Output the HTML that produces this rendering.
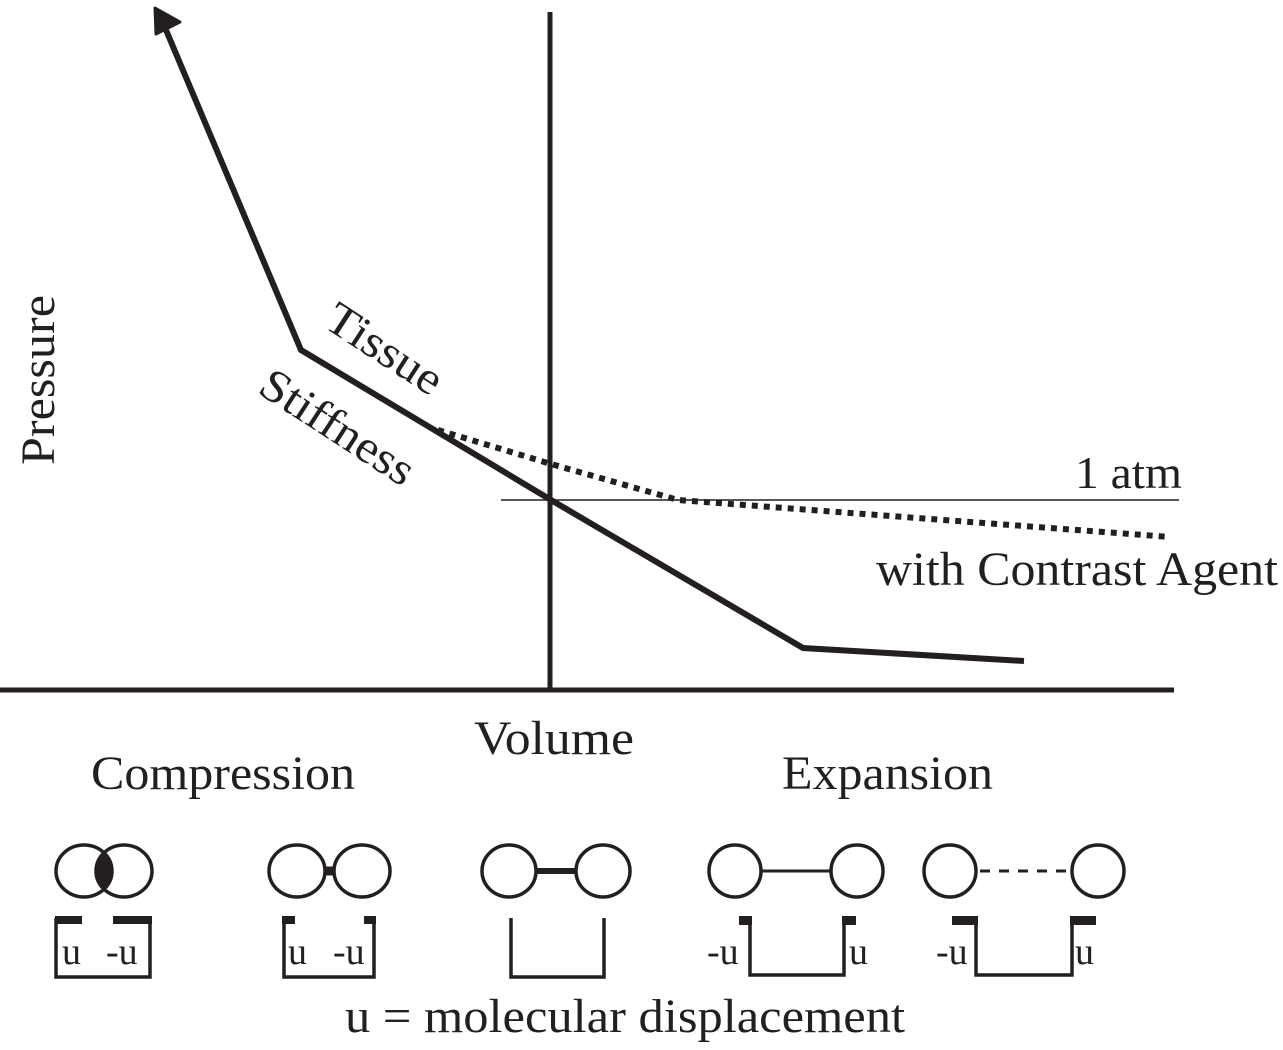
<!DOCTYPE html>
<html><head><meta charset="utf-8"><style>
html,body{margin:0;padding:0;background:#fff;}
svg{display:block;}
text{font-family:"Liberation Serif",serif;fill:#231f20;}
</style></head><body>
<svg width="1283" height="1050" viewBox="0 0 1283 1050" xmlns="http://www.w3.org/2000/svg">
<g stroke="#231f20" fill="none">
<line x1="550" y1="12" x2="550" y2="692" stroke-width="5"/>
<line x1="0" y1="690" x2="1174" y2="690" stroke-width="5"/>
<line x1="501" y1="500" x2="1179" y2="500" stroke-width="1.6"/>
<polyline points="166,30 301,350 551,500 803,648 1024,661" stroke-width="6" stroke-linejoin="miter"/>
<polyline points="438,430 551,464 678,500 1170,537" stroke-width="6" stroke-dasharray="6,6"/>
</g>
<polygon points="155,8 180,22 156,34" fill="#231f20" stroke="#231f20" stroke-width="3" stroke-linejoin="round"/>
<text x="0" y="0" font-size="48" transform="translate(54,380) rotate(-90)" text-anchor="middle" textLength="170" lengthAdjust="spacingAndGlyphs">Pressure</text>
<text x="0" y="0" font-size="46" transform="translate(322,326) rotate(33)" textLength="130" lengthAdjust="spacingAndGlyphs">Tissue</text>
<text x="0" y="0" font-size="46" transform="translate(256,392) rotate(33)" textLength="175" lengthAdjust="spacingAndGlyphs">Stiffness</text>
<text x="1075" y="488" font-size="46" textLength="107" lengthAdjust="spacingAndGlyphs">1 atm</text>
<text x="876" y="585" font-size="48" textLength="402" lengthAdjust="spacingAndGlyphs">with Contrast Agent</text>
<text x="474" y="754" font-size="48" textLength="160" lengthAdjust="spacingAndGlyphs">Volume</text>
<text x="91" y="789" font-size="48" textLength="264" lengthAdjust="spacingAndGlyphs">Compression</text>
<text x="782" y="789" font-size="48" textLength="211" lengthAdjust="spacingAndGlyphs">Expansion</text>
<text x="345" y="1032" font-size="48" textLength="560" lengthAdjust="spacingAndGlyphs">u = molecular displacement</text>
<g stroke="#231f20" fill="none" stroke-width="3.5">
<path d="M104,852 A28,26 0 0 1 104,890 A28,26 0 0 1 104,852Z" fill="#231f20" stroke="none"/>
<ellipse cx="84" cy="871" rx="28" ry="26"/>
<ellipse cx="124" cy="871" rx="28" ry="26"/>
<polyline points="56,918 56,977 150,977 150,918"/>
<ellipse cx="297" cy="871" rx="28" ry="26"/>
<ellipse cx="362" cy="871" rx="28" ry="26"/>
<line x1="325" y1="871" x2="334" y2="871" stroke-width="9"/>
<polyline points="284,918 284,977 374,977 374,918"/>
<ellipse cx="509" cy="871" rx="27" ry="26"/>
<ellipse cx="603" cy="871" rx="27" ry="26"/>
<line x1="536" y1="871" x2="576" y2="871" stroke-width="6"/>
<polyline points="511,918 511,977 604,977 604,918"/>
<ellipse cx="735" cy="871" rx="26" ry="26"/>
<ellipse cx="857" cy="871" rx="26" ry="26"/>
<line x1="761" y1="871" x2="831" y2="871" stroke-width="3"/>
<polyline points="750,920 750,975 844,975 844,920"/>
<ellipse cx="950" cy="871" rx="26" ry="26"/>
<ellipse cx="1098" cy="871" rx="26" ry="26"/>
<line x1="980" y1="871" x2="1070" y2="871" stroke-width="3" stroke-dasharray="10,9"/>
<polyline points="976,920 976,975 1072,975 1072,920"/>
</g>
<g fill="#231f20">
<rect x="55" y="916" width="27" height="8"/><rect x="113" y="916" width="39" height="8"/>
<rect x="282" y="916" width="13" height="8"/><rect x="364" y="916" width="12" height="8"/>
<rect x="739" y="916" width="13" height="9"/><rect x="842" y="916" width="14" height="9"/>
<rect x="952" y="916" width="26" height="9"/><rect x="1070" y="916" width="26" height="9"/>
</g>
<g font-size="38">
<text x="62" y="964">u</text><text x="106" y="964">-u</text>
<text x="288" y="964">u</text><text x="333" y="964">-u</text>
<text x="707" y="964">-u</text><text x="849" y="964">u</text>
<text x="936" y="964">-u</text><text x="1075" y="964">u</text>
</g>
</svg>
</body></html>
